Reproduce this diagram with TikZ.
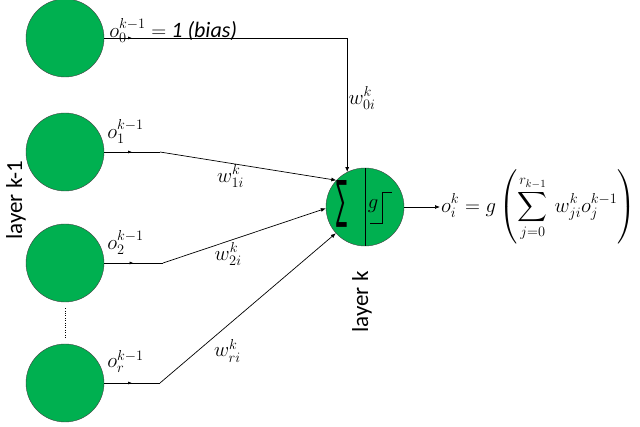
\documentclass[tikz,border=0pt]{standalone}
\usepackage{fontspec}
\setmainfont{Carlito}
\newfontfamily\symfont{DejaVu Sans}
\usepackage{amsmath}
\usepackage{graphicx}
\usetikzlibrary{positioning,arrows.meta,decorations.markings}
\definecolor{Leaf}{HTML}{00B050}
\newcommand{\inp}[1]{$o_{#1}^{k-1}$}

\begin{document}
\begin{tikzpicture}[x=1pt,y=-1pt,
    unit/.style={circle,draw=black!75,fill=Leaf,thin,
                 minimum size=78pt,inner sep=0pt},
    arr/.style={-{Latex[length=5pt,width=4pt]},line width=0.7pt},
    midarr/.style={line width=0.7pt,postaction={decorate},
                   decoration={markings,mark=at position 0.5 with
                   {\arrow{Latex[length=4pt,width=3pt]}}}},
    lbl/.style={font=\fontsize{22}{26}\selectfont,inner sep=1pt},
    side/.style={font=\fontsize{23}{27}\selectfont,rotate=90}
  ]
    \useasboundingbox (0,0) rectangle (640,427);
    % layer k-1
    \node[unit] (c0) at (65,38)  {};
    \node[unit] (c1) at (65,152) {};
    \node[unit] (c2) at (65,263) {};
    \node[unit] (cr) at (65,383) {};
    \draw[dotted,thin,shorten <=6pt,shorten >=6pt] (c2) -- (cr);
    \node[side] (lk1) at (16,200) {layer k-1};
    % neuron of layer k
    \node[unit] (n) at (365,207) {};
    \draw[thin] (n.north) -- (n.south);
    \node[inner sep=0pt] (sg) at (342,204) {\resizebox{11pt}{37pt}{\symfont ∑}};
    \node[lbl] (gg) at (373,206) {$g$};
    \draw[line width=0.7pt] ([shift={(5,16)}]n.center) -- ++(12,0) -- ++(0,-31) -- ++(10,0);
    \node[side] (lk) at (362,302) {layer k};
    % bends
    \coordinate (b0) at (160,38);
    \coordinate (b1) at (160,152);
    \coordinate (b2) at (163,263);
    \coordinate (br) at (160,383);
    \coordinate (k0) at (n.117 |- c0);
    % inputs
    \draw[midarr] (c0) -- (b0);
    \draw[midarr] (c1) -- (b1);
    \draw[midarr] (c2) -- (b2);
    \draw[midarr] (cr) -- (br);
    \draw[arr] (b0) -- (k0) -- node[lbl,right,pos=0.45] {$w_{0i}^k$} (n.117);
    \draw[arr] (b1) -- node[lbl,below,pos=0.4] {$w_{1i}^k$} (n.137);
    \draw[arr] (b2) -- node[lbl,below,pos=0.4] {$w_{2i}^k$} (n.182);
    \draw[arr] (br) -- node[lbl,below right,pos=0.3] {$w_{ri}^k$} (n.222);
    \node[lbl,above right=-6pt and 4pt of c0.east] (t0) {$o_0^{k-1}=$ \textit{1 (bias)}};
    \node[lbl,above right=7pt and 2pt of c1.east] (t1) {\inp{1}};
    \node[lbl,above right=7pt and 2pt of c2.east] (t2) {\inp{2}};
    \node[lbl,above right=9pt and 2pt of cr.east] (tr) {\inp{r}};
    % output
    \node[lbl,anchor=west,font=\fontsize{21}{25}\selectfont] (f) at (440,207)
      {$\displaystyle o_i^k = g\left(\sum_{j=0}^{r_{k-1}}\, w_{ji}^k o_j^{k-1}\right)$};
    \draw[arr] (n.east) -- (f.west);
  \end{tikzpicture}
\end{document}
